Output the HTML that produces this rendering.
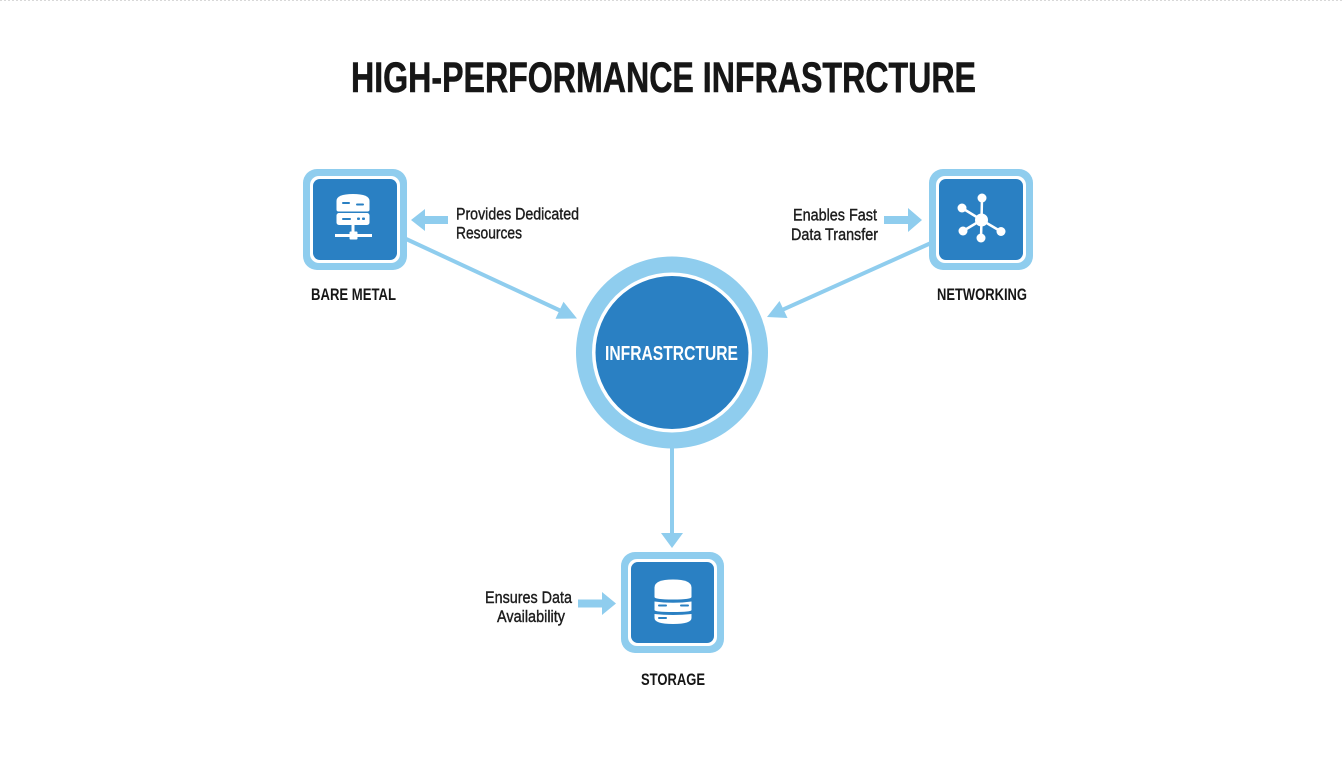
<!DOCTYPE html>
<html>
<head>
<meta charset="utf-8">
<style>
  html, body { margin: 0; padding: 0; background: #ffffff; }
  body { width: 1344px; height: 768px; overflow: hidden; }
  svg { display: block; }
  text { font-family: "Liberation Sans Narrow", "Liberation Sans", sans-serif; }
</style>
</head>
<body>
<svg width="1344" height="768" viewBox="0 0 1344 768" xmlns="http://www.w3.org/2000/svg">
  <rect x="0" y="0" width="1344" height="768" fill="#ffffff"/>
  <line x1="0" y1="0.5" x2="1344" y2="0.5" stroke="#d8d8d8" stroke-width="1" stroke-dasharray="2 2"/>

  <!-- Title -->
  <text x="351" y="92" font-size="43" font-weight="bold" fill="#161616" stroke="#161616" stroke-width="0.6" textLength="625" lengthAdjust="spacingAndGlyphs">HIGH-PERFORMANCE INFRASTRCTURE</text>

  <!-- Connectors -->
  <g stroke="#8fcdee" stroke-width="4" fill="none" stroke-linecap="butt">
    <line x1="404" y1="238" x2="560" y2="310.5"/>
    <line x1="931" y1="243" x2="783" y2="309.6"/>
    <line x1="672" y1="448" x2="672" y2="533"/>
  </g>
  <g fill="#8fcdee">
    <polygon points="577,318.5 555.5,318.8 563.5,301.8"/>
    <polygon points="767,317 779.5,301 787.5,318"/>
    <polygon points="672,548 661,533 683,533"/>
  </g>

  <!-- Small block arrows -->
  <g fill="#8fcdee">
    <polygon points="411,220 425,209 425,216 448,216 448,224 425,224 425,231"/>
    <polygon points="922,220 908,208 908,216 884,216 884,224 908,224 908,232"/>
    <polygon points="616,603.5 602,592 602,599.5 578,599.5 578,607.5 602,607.5 602,615"/>
  </g>

  <!-- Center circle -->
  <circle cx="672" cy="352.5" r="96" fill="#8fcdee"/>
  <circle cx="672" cy="352.5" r="80" fill="#ffffff"/>
  <circle cx="672" cy="352.5" r="76.5" fill="#2a80c3"/>
  <text x="605" y="360" font-size="20.5" font-weight="bold" fill="#ffffff" textLength="133" lengthAdjust="spacingAndGlyphs">INFRASTRCTURE</text>

  <!-- Bare metal box -->
  <rect x="303" y="169" width="104" height="101" rx="14" fill="#8fcdee"/>
  <rect x="310" y="176" width="90" height="87" rx="9" fill="#ffffff"/>
  <rect x="313" y="179" width="84" height="81" rx="7" fill="#2a80c3"/>
  <!-- server icon -->
  <g fill="#ffffff">
    <path d="M336.5,201 Q336.5,194 353,194 Q369.5,194 369.5,201 L369.5,209.5 Q369.5,211.5 367.5,211.5 L338.5,211.5 Q336.5,211.5 336.5,209.5 Z"/>
    <rect x="336.5" y="213" width="33" height="12" rx="2.5"/>
    <rect x="351.5" y="225" width="3" height="8"/>
    <rect x="335" y="234" width="37" height="3"/>
    <rect x="349.5" y="231.5" width="8" height="8" rx="1"/>
  </g>
  <g fill="#2a80c3">
    <rect x="342" y="202" width="8" height="2" rx="1"/>
    <rect x="356" y="203.5" width="8" height="2" rx="1"/>
    <rect x="342" y="218" width="9" height="2" rx="1"/>
    <rect x="357" y="217.5" width="3" height="2.5" rx="1"/>
    <rect x="362" y="217.5" width="3" height="2.5" rx="1"/>
  </g>
  <text x="311" y="300" font-size="17" font-weight="bold" fill="#161616" textLength="85" lengthAdjust="spacingAndGlyphs">BARE METAL</text>

  <!-- Networking box -->
  <rect x="929" y="169" width="104" height="101" rx="14" fill="#8fcdee"/>
  <rect x="936" y="176" width="90" height="87" rx="9" fill="#ffffff"/>
  <rect x="939" y="179" width="84" height="81" rx="7" fill="#2a80c3"/>
  <g stroke="#ffffff" stroke-width="2.5">
    <line x1="981.5" y1="220" x2="982" y2="198"/>
    <line x1="981.5" y1="220" x2="962" y2="208"/>
    <line x1="981.5" y1="220" x2="963" y2="231"/>
    <line x1="981.5" y1="220" x2="981" y2="238"/>
    <line x1="981.5" y1="220" x2="1001" y2="231.5"/>
  </g>
  <g fill="#ffffff">
    <circle cx="981.5" cy="220" r="6.5"/>
    <circle cx="982" cy="198" r="4.5"/>
    <circle cx="962" cy="208" r="4.5"/>
    <circle cx="963" cy="231" r="4.5"/>
    <circle cx="981" cy="238" r="4.5"/>
    <circle cx="1001" cy="231.5" r="4.5"/>
  </g>
  <text x="937" y="300" font-size="17" font-weight="bold" fill="#161616" textLength="90" lengthAdjust="spacingAndGlyphs">NETWORKING</text>

  <!-- Storage box -->
  <rect x="621" y="552" width="103" height="101" rx="14" fill="#8fcdee"/>
  <rect x="628" y="559" width="89" height="87" rx="9" fill="#ffffff"/>
  <rect x="631" y="562" width="83" height="81" rx="7" fill="#2a80c3"/>
  <g fill="#ffffff">
    <path d="M654.5,587.5 Q654.5,579.5 673,579.5 Q691.5,579.5 691.5,587.5 L691.5,597 Q691.5,599.5 673,599.5 Q654.5,599.5 654.5,597 Z"/>
    <path d="M654.5,601.5 Q673,604 691.5,601.5 L691.5,610 Q691.5,612 673,612 Q654.5,612 654.5,610 Z"/>
    <path d="M654.5,614 Q673,616 691.5,614 L691.5,618 Q691.5,624 673,624 Q654.5,624 654.5,618 Z"/>
  </g>
  <g fill="#2a80c3">
    <rect x="658" y="604.5" width="9" height="2" rx="1"/>
    <rect x="680" y="604.5" width="9" height="2" rx="1"/>
    <rect x="658" y="617" width="9" height="2" rx="1"/>
  </g>
  <text x="641" y="685" font-size="17" font-weight="bold" fill="#161616" textLength="64" lengthAdjust="spacingAndGlyphs">STORAGE</text>

  <!-- Description labels -->
  <g font-size="17" fill="#1c1c1c" stroke="#1c1c1c" stroke-width="0.4">
    <text x="456" y="219.5" textLength="123" lengthAdjust="spacingAndGlyphs">Provides Dedicated</text>
    <text x="456" y="238.5" textLength="66" lengthAdjust="spacingAndGlyphs">Resources</text>
    <text x="793" y="220.5" textLength="84" lengthAdjust="spacingAndGlyphs">Enables Fast</text>
    <text x="791" y="240" textLength="87" lengthAdjust="spacingAndGlyphs">Data Transfer</text>
    <text x="485" y="603" textLength="87" lengthAdjust="spacingAndGlyphs">Ensures Data</text>
    <text x="497" y="622" textLength="68" lengthAdjust="spacingAndGlyphs">Availability</text>
  </g>
</svg>
</body>
</html>
